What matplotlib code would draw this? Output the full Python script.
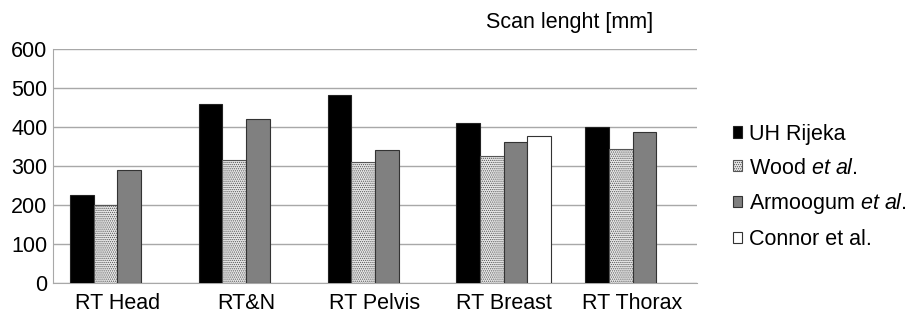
import numpy as np
import matplotlib
matplotlib.use("Agg")
import matplotlib.pyplot as plt

plt.rcParams['font.family'] = ['Liberation Sans', 'DejaVu Sans']
plt.rcParams['mathtext.fontset'] = 'custom'
plt.rcParams['mathtext.rm'] = 'Liberation Sans'
plt.rcParams['mathtext.it'] = 'Liberation Sans:italic'
plt.rcParams['hatch.linewidth'] = 0.6

categories = ["RT Head", "RT&N", "RT Pelvis", "RT Breast", "RT Thorax"]
uh_rijeka = [225, 460, 483, 410, 400]
wood = [200, 315, 310, 325, 345]
armoogum = [290, 420, 342, 362, 387]
connor = [np.nan, np.nan, np.nan, 378, np.nan]

series_labels = ["UH Rijeka", r"Wood $\it{et\ al.}$", r"Armoogum $\it{et\ al.}$", "Connor et al."]

fig = plt.figure(figsize=(9.18, 3.17), dpi=100)
ax = fig.add_axes([0.0577, 0.107, 0.7015, 0.738])

x = np.arange(len(categories))
w = 0.184
offsets = [-1.5, -0.5, 0.5, 1.5]
edge = "#555555"

ax.bar(x + offsets[0] * w, uh_rijeka, w, color="black", edgecolor="#222222", lw=0.8, label=series_labels[0], zorder=3)
ax.bar(x + offsets[1] * w, wood, w, color="#e8e8e8", edgecolor=edge, hatch="........", lw=0.8, label=series_labels[1], zorder=3)
ax.bar(x + offsets[2] * w, armoogum, w, color="#808080", edgecolor="#333333", lw=0.8, label=series_labels[2], zorder=3)
ax.bar(x + offsets[3] * w, connor, w, color="white", edgecolor="#333333", lw=0.8, label=series_labels[3], zorder=3)

ax.set_xlim(-0.5, len(categories) - 0.5)
ax.set_ylim(0, 600)
ax.set_yticks(np.arange(0, 601, 100))
ax.set_xticks(x)
ax.set_xticklabels(categories)
ax.tick_params(axis='both', length=0, labelsize=15.5)
ax.tick_params(axis='x', pad=7)
ax.tick_params(axis='y', pad=4)
ax.yaxis.grid(True, color="#a8a8a8", lw=1, zorder=0)
for s in ["top", "right"]:
    ax.spines[s].set_visible(False)
ax.spines["left"].set_color("#a8a8a8")
ax.spines["bottom"].set_color("#a8a8a8")

ax.set_title("Scan lenght [mm]", fontsize=15.5, x=0.802, y=1.055)

fig.legend(loc="center left", bbox_to_anchor=(0.777, 0.41), frameon=False,
           fontsize=15.5, handlelength=0.42, handleheight=0.42, handletextpad=0.35,
           labelspacing=0.6)

fig.savefig("out.png", dpi=100)
